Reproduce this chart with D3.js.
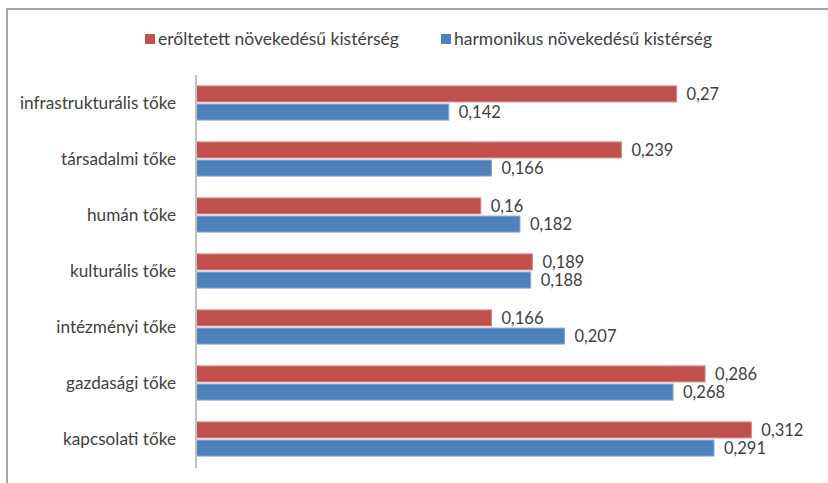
<!DOCTYPE html>
<html><head><meta charset="utf-8">
<script src="https://cdn.jsdelivr.net/npm/d3@7"></script>
<style>
html,body{margin:0;padding:0;background:#fff;}
svg{display:block;}
text{font-family:Lato,"Open Sans",sans-serif;fill:#404040;}
</style></head>
<body>
<svg id="chart" width="828" height="483"></svg>
<script>
const categories = ["infrastrukturális tőke","társadalmi tőke","humán tőke","kulturális tőke","intézményi tőke","gazdasági tőke","kapcsolati tőke"];
const seriesNames = ["erőltetett növekedésű kistérség","harmonikus növekedésű kistérség"];
const erolteted = [0.27, 0.239, 0.16, 0.189, 0.166, 0.286, 0.312];
const harmonikus = [0.142, 0.166, 0.182, 0.188, 0.207, 0.268, 0.291];
const colors = ["#C0504D","#4F81BD"];
const strokes = ["#d68886","#88a8d4"];

const svg = d3.select("#chart");
const fmt = d3.formatLocale({decimal:",", thousands:" ", grouping:[3], currency:["",""]}).format("~g");

// frame
svg.append("path").attr("d","M7,490 V9 H840").attr("fill","none").attr("stroke","#a6a6a6").attr("stroke-width",2);

const x0 = 196;
const x = d3.scaleLinear().domain([0,0.35]).range([x0, 819]);
const y = d3.scaleBand().domain(categories).range([75,467]).paddingInner(0.39).paddingOuter(0.195);
const ys = d3.scaleBand().domain([0,1]).range([0,y.bandwidth()]).paddingInner(0.12);

const data = categories.map((c,i)=>({cat:c, vals:[erolteted[i], harmonikus[i]]}));

const g = svg.append("g");
const grp = g.selectAll("g.cat").data(data).join("g").attr("class","cat")
  .attr("transform", d=>`translate(0,${y(d.cat)})`);
grp.selectAll("rect").data(d=>d.vals.map((v,s)=>({v,s}))).join("rect")
  .attr("x", x(0)).attr("y", d=>ys(d.s)).attr("width", d=>x(d.v)-x(0)).attr("height", ys.bandwidth())
  .attr("fill", d=>colors[d.s]).attr("stroke", d=>strokes[d.s]).attr("stroke-width",1);
grp.selectAll("text.val").data(d=>d.vals.map((v,s)=>({v,s}))).join("text").attr("class","val")
  .attr("x", d=>x(d.v)+10).attr("y", d=>ys(d.s)+ys.bandwidth()/2).attr("dy","0.36em")
  .style("font-size","16.5px").text(d=>fmt(d.v));

// axis
const axis = d3.axisLeft(y).tickSize(0).tickPadding(20);
const ax = svg.append("g").attr("transform",`translate(${x0},0)`).call(axis);
ax.select(".domain").attr("stroke","#c0c0c0").attr("stroke-width",2).attr("d","M0,75V468");
ax.selectAll("text").style("font-size","17.2px").attr("fill","#404040").style("font-family","Lato,sans-serif");

// legend
const legX = [145, 441];
const leg = svg.selectAll("g.leg").data(seriesNames).join("g").attr("class","leg")
  .attr("transform",(d,i)=>`translate(${legX[i]},34)`);
leg.append("rect").attr("width",10).attr("height",10).attr("fill",(d,i)=>colors[i]);
leg.append("text").attr("x",13).attr("y",5).attr("dy","0.36em").style("font-size","17.5px").text(d=>d);
</script>
</body></html>
